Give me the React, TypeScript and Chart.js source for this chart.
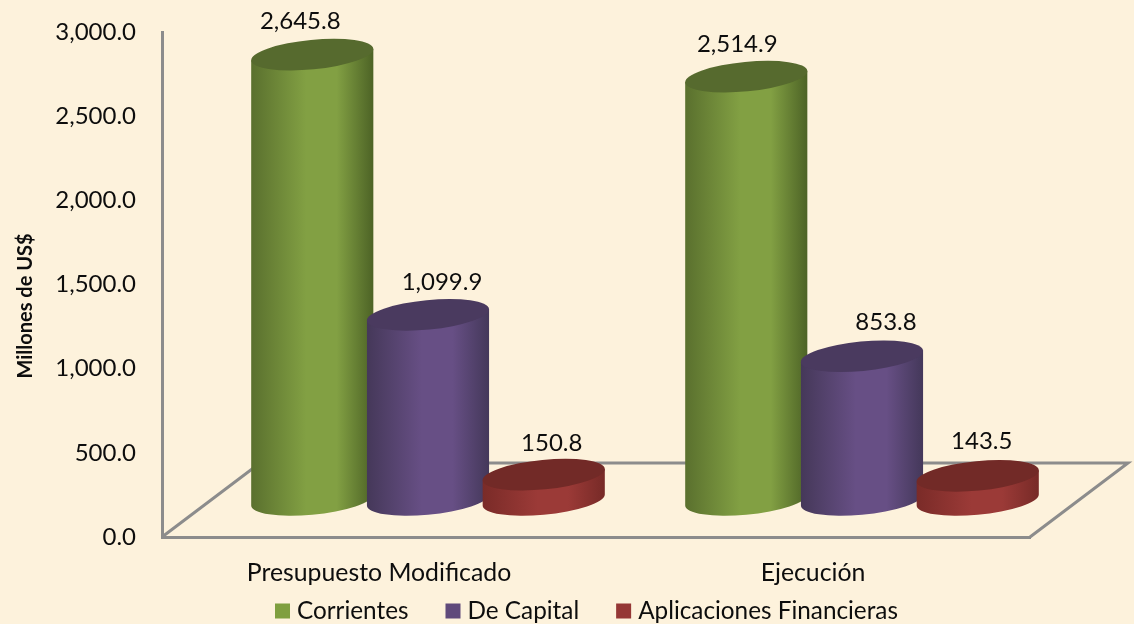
import React, { useEffect, useRef } from "react";
import { Chart, registerables } from "chart.js";

Chart.register(...registerables);

const categories = ["Presupuesto Modificado", "Ejecución"];
const corrientes = [2645.8, 2514.9];
const deCapital = [1099.9, 853.8];
const aplicaciones = [150.8, 143.5];
const seriesNames = ["Corrientes", "De Capital", "Aplicaciones Financieras"];
const yTicks = [0, 500, 1000, 1500, 2000, 2500, 3000];
const yTitle = "Millones de US$";

const FONT = "Lato, Carlito, sans-serif";
const TEXT = "#0d0d0d";
const AXIS = "#8c8c8c";
const BG = "#fdf2dc";

const solid = ["#7f9f3f", "#604a7b", "#953735"];
const shades = [
  { edgeL: "#5a702e", mid: "#82a043", edgeR: "#4d6326", top: "#566a2e" },
  { edgeL: "#453859", mid: "#674f85", edgeR: "#44385a", top: "#4a3a5f" },
  { edgeL: "#7a2b28", mid: "#9b3a37", edgeR: "#772a27", top: "#722a27" },
];
// manual label nudges of the reference, per series and category
const labelNudge = [
  [[-12, -33], [-9, -32]],
  [[14, -33], [24, -34]],
  [[8, -31], [4, -35]],
];

const DEPTH_X = 98;
const DEPTH_Y = 74;

const fmt = (v: number) =>
  v.toLocaleString("en-US", { minimumFractionDigits: 1, maximumFractionDigits: 1 });

const cylinders = {
  id: "cylinders",
  beforeDraw(chart: any) {
    const { ctx, width, height } = chart;
    ctx.save();
    ctx.fillStyle = BG;
    ctx.fillRect(0, 0, width, height);
    ctx.restore();
  },
  beforeDatasetsDraw(chart: any) {
    const { ctx, chartArea, scales } = chart;
    const y0 = scales.y.getPixelForValue(0);
    // floor
    ctx.save();
    ctx.strokeStyle = AXIS;
    ctx.lineWidth = 3;
    ctx.beginPath();
    ctx.moveTo(chartArea.left, y0);
    ctx.lineTo(chartArea.left + DEPTH_X, y0 - DEPTH_Y);
    ctx.lineTo(chartArea.right + DEPTH_X, y0 - DEPTH_Y);
    ctx.lineTo(chartArea.right, y0);
    ctx.stroke();
    ctx.restore();

    const phi = (-5.5 * Math.PI) / 180;
    chart.data.datasets.forEach((_: any, di: number) => {
      const meta = chart.getDatasetMeta(di);
      const s = shades[di];
      meta.data.forEach((bar: any) => {
        const cx = bar.x + DEPTH_X / 2;
        const top = bar.y - DEPTH_Y / 2;
        const bot = bar.base - DEPTH_Y / 2;
        const a = (bar.width * 1.06) / 2;
        const b = a * 0.24;
        const t0 = Math.atan2(-b * Math.sin(phi), a * Math.cos(phi));
        const ex = a * Math.cos(t0) * Math.cos(phi) - b * Math.sin(t0) * Math.sin(phi);
        const ey = a * Math.cos(t0) * Math.sin(phi) + b * Math.sin(t0) * Math.cos(phi);
        const g = ctx.createLinearGradient(cx - ex, 0, cx + ex, 0);
        g.addColorStop(0, s.edgeL);
        g.addColorStop(0.45, s.mid);
        g.addColorStop(0.7, s.mid);
        g.addColorStop(1, s.edgeR);
        ctx.save();
        ctx.fillStyle = g;
        ctx.beginPath();
        ctx.moveTo(cx + ex, top + ey);
        ctx.lineTo(cx + ex, bot + ey);
        ctx.ellipse(cx, bot, a, b, phi, t0, t0 + Math.PI, false);
        ctx.lineTo(cx - ex, top - ey);
        ctx.closePath();
        ctx.fill();
        ctx.fillStyle = s.top;
        ctx.beginPath();
        ctx.ellipse(cx, top, a, b, phi, 0, Math.PI * 2);
        ctx.fill();
        ctx.restore();
      });
    });
  },
  beforeDatasetDraw() {
    return false;
  },
  afterDatasetsDraw(chart: any) {
    const { ctx, chartArea, width, height } = chart;
    ctx.save();
    ctx.fillStyle = TEXT;
    ctx.font = `24px ${FONT}`;
    ctx.textAlign = "center";
    ctx.textBaseline = "middle";
    chart.data.datasets.forEach((ds: any, di: number) => {
      const meta = chart.getDatasetMeta(di);
      meta.data.forEach((bar: any, i: number) => {
        const [dx, dy] = labelNudge[di][i];
        ctx.fillText(fmt(ds.data[i]), bar.x + DEPTH_X / 2 + dx, bar.y - DEPTH_Y / 2 + dy);
      });
    });

    // y axis title
    ctx.save();
    ctx.translate(chartArea.left - 136, chartArea.bottom - 231);
    ctx.rotate(-Math.PI / 2);
    ctx.font = `bold 20px ${FONT}`;
    ctx.fillText(yTitle, 0, 0);
    ctx.restore();

    // legend
    ctx.font = `24.3px ${FONT}`;
    ctx.textAlign = "left";
    let x = width / 2 - 292;
    const cy = height - 13;
    chart.data.datasets.forEach((ds: any) => {
      ctx.fillStyle = ds.backgroundColor;
      ctx.fillRect(x, cy - 7.5, 15, 15);
      ctx.fillStyle = TEXT;
      ctx.fillText(ds.label, x + 22, cy);
      x += 22 + ctx.measureText(ds.label).width + 37;
    });
    ctx.restore();
  },
};

export default function App() {
  const ref = useRef<HTMLCanvasElement>(null);
  useEffect(() => {
    document.body.style.margin = "0";
    const chart = new Chart(ref.current!, {
      type: "bar",
      data: {
        labels: categories,
        datasets: [corrientes, deCapital, aplicaciones].map((data, i) => ({
          label: seriesNames[i],
          data,
          backgroundColor: solid[i],
          categoryPercentage: 0.8,
          barPercentage: 1,
        })),
      },
      options: {
        responsive: false,
        animation: false,
        layout: { padding: { left: 14, right: 104, top: 32, bottom: 0 } },
        plugins: {
          tooltip: { enabled: false },
          legend: { display: false },
        },
        scales: {
          x: {
            grid: { display: false, drawTicks: false },
            border: { color: AXIS, width: 3 },
            ticks: { color: TEXT, padding: 21, font: { family: FONT, size: 24.8 } },
            afterFit: (s: any) => {
              s.height = 87;
              s.paddingLeft = 0;
              s.paddingRight = 0;
            },
          },
          y: {
            min: 0,
            max: 3000,
            afterBuildTicks: (s: any) => {
              s.ticks = yTicks.map((value) => ({ value }));
            },
            grid: { display: false, drawTicks: false },
            border: { color: AXIS, width: 3 },
            ticks: {
              color: TEXT,
              padding: 26,
              font: { family: FONT, size: 24 },
              callback: (v: any) => fmt(Number(v)),
            },
            afterFit: (s: any) => {
              s.width = 148;
              s.paddingTop = 0;
              s.paddingBottom = 0;
            },
          },
        },
      },
      plugins: [cylinders],
    } as any);
    return () => chart.destroy();
  }, []);
  return <canvas ref={ref} width={1134} height={624} style={{ display: "block" }} />;
}
